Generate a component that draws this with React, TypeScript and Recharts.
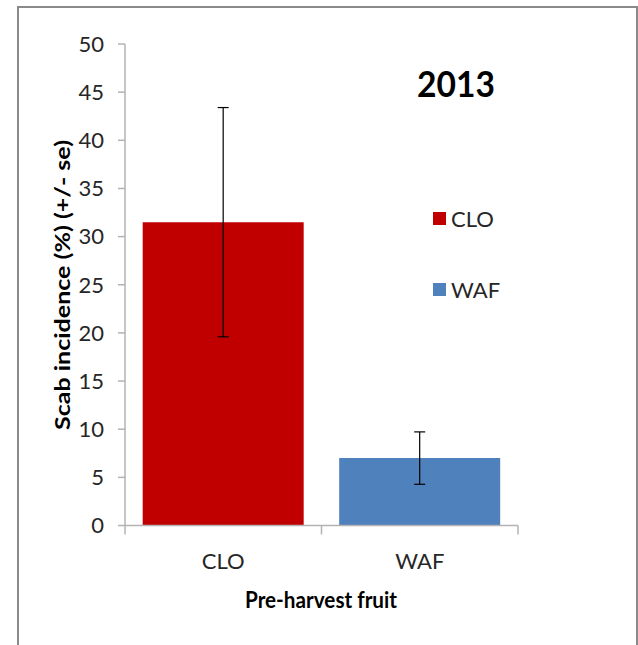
import React from 'react';
import { BarChart, Bar, XAxis, YAxis, Cell, ErrorBar, Legend } from 'recharts';

const categories = ['CLO', 'WAF'];
const values = [31.5, 7.0];
const errors = [11.9, 2.72];
const colors = ['#C00000', '#4F81BD'];
const yTicks = [0, 5, 10, 15, 20, 25, 30, 35, 40, 45, 50];
const chartTitle = '2013';
const xTitle = 'Pre-harvest fruit';
const yTitle = 'Scab incidence (%) (+/- se)';

const data = categories.map((c, i) => ({ name: c, value: values[i], se: errors[i] }));

const FONT = "Lato, 'Open Sans', sans-serif";
const AXIS_COLOR = '#b3b3b3';
const TEXT_COLOR = '#262626';

const XTick = (props: any) => {
  const { x, y, payload, index, visibleTicksCount } = props;
  const half = payload && payload.offset ? payload.offset : 98.25;
  const last = index === (visibleTicksCount ?? categories.length) - 1;
  return (
    <g>
      <line x1={x - half} x2={x - half} y1={y} y2={y + 9} stroke={AXIS_COLOR} strokeWidth={1.5} />
      {last && <line x1={x + half} x2={x + half} y1={y} y2={y + 9} stroke={AXIS_COLOR} strokeWidth={1.5} />}
      <text x={x} y={y + 43.5} textAnchor="middle" fontFamily={FONT} fontSize={22} fill={TEXT_COLOR}>
        {payload.value}
      </text>
    </g>
  );
};

const LegendContent = () => (
  <div style={{ fontFamily: FONT, fontSize: 22, color: TEXT_COLOR }}>
    {categories.map((c, i) => (
      <div key={c} style={{ display: 'flex', alignItems: 'center', height: 25, marginBottom: i === 0 ? 45.5 : 0 }}>
        <span style={{ display: 'inline-block', width: 13, height: 13, background: colors[i], marginRight: 5 }} />
        <span>{c}</span>
      </div>
    ))}
  </div>
);

export default function App() {
  return (
    <div style={{ position: 'absolute', left: 0, top: 0, width: 638, height: 645, overflow: 'hidden', background: '#fff' }}>
      <div
        style={{
          position: 'absolute',
          left: 17,
          top: 6,
          width: 621,
          height: 700,
          border: '2px solid #8a8a8a',
          boxSizing: 'border-box',
        }}
      />
      <div style={{ position: 'absolute', left: 0, top: 0 }}>
        <BarChart
          width={638}
          height={645}
          data={data}
          margin={{ top: 44, right: 120, bottom: 89.5, left: 65 }}
          barCategoryGap="9%"
        >
          <XAxis
            dataKey="name"
            height={30}
            interval={0}
            tickLine={false}
            tickSize={0}
            tickMargin={0}
            axisLine={{ stroke: AXIS_COLOR, strokeWidth: 1.5 }}
            tick={<XTick />}
          />
          <YAxis
            type="number"
            domain={[0, 50]}
            ticks={yTicks}
            interval={0}
            width={60}
            tickSize={7}
            tickMargin={14}
            axisLine={{ stroke: AXIS_COLOR, strokeWidth: 1.5 }}
            tickLine={{ stroke: AXIS_COLOR, strokeWidth: 1.5 }}
            tick={{ fontFamily: FONT, fontSize: 22, fill: TEXT_COLOR }}
          />
          <Legend
            layout="vertical"
            align="center"
            verticalAlign="middle"
            content={<LegendContent />}
            wrapperStyle={{ left: 433, top: 206, width: 120, height: 100 }}
          />
          <Bar dataKey="value" isAnimationActive={false}>
            {data.map((d, i) => (
              <Cell key={d.name} fill={colors[i]} />
            ))}
            <ErrorBar dataKey="se" width={5.5} stroke="#000" strokeWidth={1.2} isAnimationActive={false} />
          </Bar>
        </BarChart>
      </div>
      <svg width={638} height={645} style={{ position: 'absolute', left: 0, top: 0, pointerEvents: 'none' }}>
        <text
          x={456}
          y={97}
          textAnchor="middle"
          fontFamily={FONT}
          fontWeight="bold"
          fontSize={37}
          fill="#000"
          textLength={78}
          lengthAdjust="spacingAndGlyphs"
        >
          {chartTitle}
        </text>
        <text
          transform="translate(70,285) rotate(-90)"
          textAnchor="middle"
          fontFamily={FONT}
          fontWeight="bold"
          fontSize={21}
          fill="#000"
          textLength={290}
          lengthAdjust="spacingAndGlyphs"
        >
          {yTitle}
        </text>
        <text
          x={321}
          y={608}
          textAnchor="middle"
          fontFamily={FONT}
          fontWeight="bold"
          fontSize={22}
          fill="#000"
          textLength={152}
          lengthAdjust="spacingAndGlyphs"
        >
          {xTitle}
        </text>
      </svg>
    </div>
  );
}
